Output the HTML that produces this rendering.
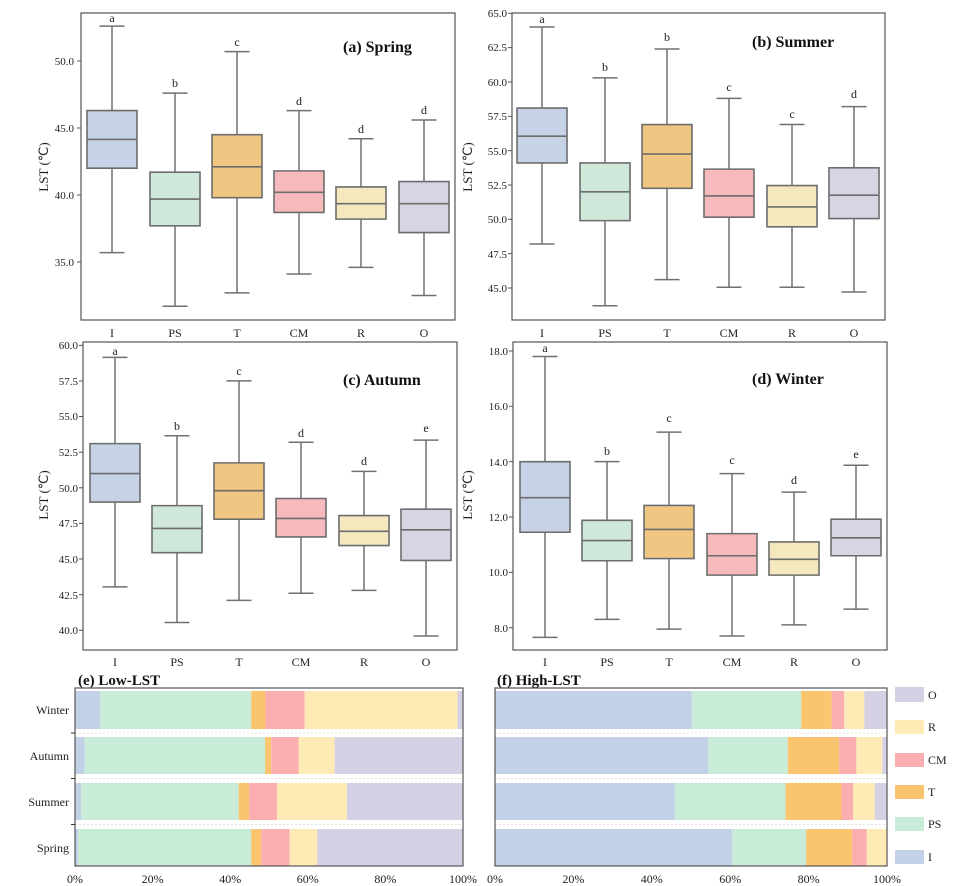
<!DOCTYPE html>
<html><head><meta charset="utf-8"><style>
html,body{margin:0;padding:0;background:#fff;}
svg{display:block;font-family:"Liberation Serif",serif;}
.bx{stroke:#6d6d6d;stroke-width:1.6;}
.w{stroke:#707070;stroke-width:1.5;fill:none;}
.t{font-size:11px;fill:#222;}
.tl{font-size:11px;fill:#222;text-anchor:end;}
.xl{font-size:12px;fill:#222;text-anchor:middle;}
.let{font-size:12px;fill:#222;text-anchor:middle;}
.ttl{font-size:16px;font-weight:bold;fill:#111;}
.fr{fill:none;stroke:#555;stroke-width:1.2;}
</style></head><body>
<svg width="959" height="886" viewBox="0 0 959 886" xmlns="http://www.w3.org/2000/svg">
<defs>
<style>.n{vector-effect:non-scaling-stroke;}</style>
</defs>

<!-- ===== Panel a ===== -->
<rect x="81" y="13" width="374" height="307" class="fr"/>
<g class="tl">
<text x="74" y="65">50.0</text><text x="74" y="132">45.0</text><text x="74" y="199">40.0</text><text x="74" y="266">35.0</text>
</g>
<g stroke="#555"><line x1="77" y1="61" x2="81" y2="61"/><line x1="77" y1="128" x2="81" y2="128"/><line x1="77" y1="195" x2="81" y2="195"/><line x1="77" y1="262" x2="81" y2="262"/></g>
<text transform="translate(48,167) rotate(-90)" class="xl" style="font-size:13px">LST (℃)</text>
<g transform="matrix(1 0 0 -13.4 0 731)">
<g class="w n">
<line class="n" x1="112" y1="46.3" x2="112" y2="52.6"/><line class="n" x1="112" y1="42" x2="112" y2="35.7"/><line class="n" x1="99.5" y1="52.6" x2="124.5" y2="52.6"/><line class="n" x1="99.5" y1="35.7" x2="124.5" y2="35.7"/>
<line class="n" x1="175" y1="41.7" x2="175" y2="47.6"/><line class="n" x1="175" y1="37.7" x2="175" y2="31.7"/><line class="n" x1="162.5" y1="47.6" x2="187.5" y2="47.6"/><line class="n" x1="162.5" y1="31.7" x2="187.5" y2="31.7"/>
<line class="n" x1="237" y1="44.5" x2="237" y2="50.7"/><line class="n" x1="237" y1="39.8" x2="237" y2="32.7"/><line class="n" x1="224.5" y1="50.7" x2="249.5" y2="50.7"/><line class="n" x1="224.5" y1="32.7" x2="249.5" y2="32.7"/>
<line class="n" x1="299" y1="41.8" x2="299" y2="46.3"/><line class="n" x1="299" y1="38.7" x2="299" y2="34.1"/><line class="n" x1="286.5" y1="46.3" x2="311.5" y2="46.3"/><line class="n" x1="286.5" y1="34.1" x2="311.5" y2="34.1"/>
<line class="n" x1="361" y1="40.6" x2="361" y2="44.2"/><line class="n" x1="361" y1="38.2" x2="361" y2="34.6"/><line class="n" x1="348.5" y1="44.2" x2="373.5" y2="44.2"/><line class="n" x1="348.5" y1="34.6" x2="373.5" y2="34.6"/>
<line class="n" x1="424" y1="41" x2="424" y2="45.6"/><line class="n" x1="424" y1="37.2" x2="424" y2="32.5"/><line class="n" x1="411.5" y1="45.6" x2="436.5" y2="45.6"/><line class="n" x1="411.5" y1="32.5" x2="436.5" y2="32.5"/>
</g>
<g class="bx">
<rect class="n" x="87" y="42" width="50" height="4.3" fill="#c6d3e6"/><line class="n" x1="87" y1="44.15" x2="137" y2="44.15"/>
<rect class="n" x="150" y="37.7" width="50" height="4" fill="#cfe8da"/><line class="n" x1="150" y1="39.7" x2="200" y2="39.7"/>
<rect class="n" x="212" y="39.8" width="50" height="4.7" fill="#efc682"/><line class="n" x1="212" y1="42.1" x2="262" y2="42.1"/>
<rect class="n" x="274" y="38.7" width="50" height="3.1" fill="#f6babc"/><line class="n" x1="274" y1="40.2" x2="324" y2="40.2"/>
<rect class="n" x="336" y="38.2" width="50" height="2.4" fill="#f5e7be"/><line class="n" x1="336" y1="39.35" x2="386" y2="39.35"/>
<rect class="n" x="399" y="37.2" width="50" height="3.8" fill="#d8d4e4"/><line class="n" x1="399" y1="39.35" x2="449" y2="39.35"/>
</g></g>
<g class="let"><text x="112" y="22">a</text><text x="175" y="87">b</text><text x="237" y="46">c</text><text x="299" y="105">d</text><text x="361" y="133">d</text><text x="424" y="114">d</text></g>
<g class="xl"><text x="112" y="337">I</text><text x="175" y="337">PS</text><text x="237" y="337">T</text><text x="299" y="337">CM</text><text x="361" y="337">R</text><text x="424" y="337">O</text></g>
<text x="343" y="52" class="ttl">(a) Spring</text>

<!-- ===== Panel b ===== -->
<rect x="512" y="13" width="373" height="307" class="fr"/>
<g class="tl">
<text x="507" y="17">65.0</text><text x="507" y="51">62.5</text><text x="507" y="86">60.0</text><text x="507" y="120">57.5</text><text x="507" y="155">55.0</text><text x="507" y="189">52.5</text><text x="507" y="223">50.0</text><text x="507" y="258">47.5</text><text x="507" y="292">45.0</text>
</g>
<g stroke="#555"><line x1="508" y1="13.3" x2="512" y2="13.3"/><line x1="508" y1="47.6" x2="512" y2="47.6"/><line x1="508" y1="82" x2="512" y2="82"/><line x1="508" y1="116.4" x2="512" y2="116.4"/><line x1="508" y1="150.6" x2="512" y2="150.6"/><line x1="508" y1="185" x2="512" y2="185"/><line x1="508" y1="219.3" x2="512" y2="219.3"/><line x1="508" y1="253.6" x2="512" y2="253.6"/><line x1="508" y1="288" x2="512" y2="288"/></g>
<text transform="translate(472,167) rotate(-90)" class="xl" style="font-size:13px">LST (℃)</text>
<g transform="matrix(1 0 0 -13.73 0 905.75)">
<g class="w">
<line class="n" x1="542" y1="58.1" x2="542" y2="64"/><line class="n" x1="542" y1="54.1" x2="542" y2="48.2"/><line class="n" x1="529.5" y1="64" x2="554.5" y2="64"/><line class="n" x1="529.5" y1="48.2" x2="554.5" y2="48.2"/>
<line class="n" x1="605" y1="54.1" x2="605" y2="60.3"/><line class="n" x1="605" y1="49.9" x2="605" y2="43.7"/><line class="n" x1="592.5" y1="60.3" x2="617.5" y2="60.3"/><line class="n" x1="592.5" y1="43.7" x2="617.5" y2="43.7"/>
<line class="n" x1="667" y1="56.9" x2="667" y2="62.4"/><line class="n" x1="667" y1="52.25" x2="667" y2="45.6"/><line class="n" x1="654.5" y1="62.4" x2="679.5" y2="62.4"/><line class="n" x1="654.5" y1="45.6" x2="679.5" y2="45.6"/>
<line class="n" x1="729" y1="53.65" x2="729" y2="58.8"/><line class="n" x1="729" y1="50.15" x2="729" y2="45.05"/><line class="n" x1="716.5" y1="58.8" x2="741.5" y2="58.8"/><line class="n" x1="716.5" y1="45.05" x2="741.5" y2="45.05"/>
<line class="n" x1="792" y1="52.45" x2="792" y2="56.9"/><line class="n" x1="792" y1="49.45" x2="792" y2="45.05"/><line class="n" x1="779.5" y1="56.9" x2="804.5" y2="56.9"/><line class="n" x1="779.5" y1="45.05" x2="804.5" y2="45.05"/>
<line class="n" x1="854" y1="53.75" x2="854" y2="58.2"/><line class="n" x1="854" y1="50.05" x2="854" y2="44.7"/><line class="n" x1="841.5" y1="58.2" x2="866.5" y2="58.2"/><line class="n" x1="841.5" y1="44.7" x2="866.5" y2="44.7"/>
</g>
<g class="bx">
<rect class="n" x="517" y="54.1" width="50" height="4" fill="#c6d3e6"/><line class="n" x1="517" y1="56.05" x2="567" y2="56.05"/>
<rect class="n" x="580" y="49.9" width="50" height="4.2" fill="#cfe8da"/><line class="n" x1="580" y1="52" x2="630" y2="52"/>
<rect class="n" x="642" y="52.25" width="50" height="4.65" fill="#efc682"/><line class="n" x1="642" y1="54.75" x2="692" y2="54.75"/>
<rect class="n" x="704" y="50.15" width="50" height="3.5" fill="#f6babc"/><line class="n" x1="704" y1="51.7" x2="754" y2="51.7"/>
<rect class="n" x="767" y="49.45" width="50" height="3" fill="#f5e7be"/><line class="n" x1="767" y1="50.9" x2="817" y2="50.9"/>
<rect class="n" x="829" y="50.05" width="50" height="3.7" fill="#d8d4e4"/><line class="n" x1="829" y1="51.75" x2="879" y2="51.75"/>
</g></g>
<g class="let"><text x="542" y="23">a</text><text x="605" y="71">b</text><text x="667" y="41">b</text><text x="729" y="91">c</text><text x="792" y="118">c</text><text x="854" y="98">d</text></g>
<g class="xl"><text x="542" y="337">I</text><text x="605" y="337">PS</text><text x="667" y="337">T</text><text x="729" y="337">CM</text><text x="792" y="337">R</text><text x="854" y="337">O</text></g>
<text x="752" y="47" class="ttl">(b) Summer</text>

<!-- ===== Panel c ===== -->
<rect x="83" y="342" width="374" height="308" class="fr"/>
<g class="tl">
<text x="78" y="349">60.0</text><text x="78" y="385">57.5</text><text x="78" y="420">55.0</text><text x="78" y="456">52.5</text><text x="78" y="492">50.0</text><text x="78" y="527">47.5</text><text x="78" y="563">45.0</text><text x="78" y="599">42.5</text><text x="78" y="634">40.0</text>
</g>
<g stroke="#555"><line x1="79" y1="345.3" x2="83" y2="345.3"/><line x1="79" y1="381" x2="83" y2="381"/><line x1="79" y1="416.5" x2="83" y2="416.5"/><line x1="79" y1="452.2" x2="83" y2="452.2"/><line x1="79" y1="487.8" x2="83" y2="487.8"/><line x1="79" y1="523.4" x2="83" y2="523.4"/><line x1="79" y1="559" x2="83" y2="559"/><line x1="79" y1="594.7" x2="83" y2="594.7"/><line x1="79" y1="630.3" x2="83" y2="630.3"/></g>
<text transform="translate(48,495) rotate(-90)" class="xl" style="font-size:13px">LST (℃)</text>
<g transform="matrix(1 0 0 -14.25 0 1200.3)">
<g class="w">
<line class="n" x1="115" y1="53.1" x2="115" y2="59.15"/><line class="n" x1="115" y1="49" x2="115" y2="43.05"/><line class="n" x1="102.5" y1="59.15" x2="127.5" y2="59.15"/><line class="n" x1="102.5" y1="43.05" x2="127.5" y2="43.05"/>
<line class="n" x1="177" y1="48.75" x2="177" y2="53.65"/><line class="n" x1="177" y1="45.45" x2="177" y2="40.55"/><line class="n" x1="164.5" y1="53.65" x2="189.5" y2="53.65"/><line class="n" x1="164.5" y1="40.55" x2="189.5" y2="40.55"/>
<line class="n" x1="239" y1="51.75" x2="239" y2="57.5"/><line class="n" x1="239" y1="47.8" x2="239" y2="42.1"/><line class="n" x1="226.5" y1="57.5" x2="251.5" y2="57.5"/><line class="n" x1="226.5" y1="42.1" x2="251.5" y2="42.1"/>
<line class="n" x1="301" y1="49.25" x2="301" y2="53.2"/><line class="n" x1="301" y1="46.55" x2="301" y2="42.6"/><line class="n" x1="288.5" y1="53.2" x2="313.5" y2="53.2"/><line class="n" x1="288.5" y1="42.6" x2="313.5" y2="42.6"/>
<line class="n" x1="364" y1="48.05" x2="364" y2="51.15"/><line class="n" x1="364" y1="45.95" x2="364" y2="42.8"/><line class="n" x1="351.5" y1="51.15" x2="376.5" y2="51.15"/><line class="n" x1="351.5" y1="42.8" x2="376.5" y2="42.8"/>
<line class="n" x1="426" y1="48.5" x2="426" y2="53.35"/><line class="n" x1="426" y1="44.9" x2="426" y2="39.6"/><line class="n" x1="413.5" y1="53.35" x2="438.5" y2="53.35"/><line class="n" x1="413.5" y1="39.6" x2="438.5" y2="39.6"/>
</g>
<g class="bx">
<rect class="n" x="90" y="49" width="50" height="4.1" fill="#c6d3e6"/><line class="n" x1="90" y1="51" x2="140" y2="51"/>
<rect class="n" x="152" y="45.45" width="50" height="3.3" fill="#cfe8da"/><line class="n" x1="152" y1="47.15" x2="202" y2="47.15"/>
<rect class="n" x="214" y="47.8" width="50" height="3.95" fill="#efc682"/><line class="n" x1="214" y1="49.8" x2="264" y2="49.8"/>
<rect class="n" x="276" y="46.55" width="50" height="2.7" fill="#f6babc"/><line class="n" x1="276" y1="47.85" x2="326" y2="47.85"/>
<rect class="n" x="339" y="45.95" width="50" height="2.1" fill="#f5e7be"/><line class="n" x1="339" y1="46.95" x2="389" y2="46.95"/>
<rect class="n" x="401" y="44.9" width="50" height="3.6" fill="#d8d4e4"/><line class="n" x1="401" y1="47.05" x2="451" y2="47.05"/>
</g></g>
<g class="let"><text x="115" y="355">a</text><text x="177" y="430">b</text><text x="239" y="375">c</text><text x="301" y="437">d</text><text x="364" y="465">d</text><text x="426" y="432">e</text></g>
<g class="xl"><text x="115" y="666">I</text><text x="177" y="666">PS</text><text x="239" y="666">T</text><text x="301" y="666">CM</text><text x="364" y="666">R</text><text x="426" y="666">O</text></g>
<text x="343" y="385" class="ttl">(c) Autumn</text>

<!-- ===== Panel d ===== -->
<rect x="513" y="342" width="374" height="308" class="fr"/>
<g class="tl">
<text x="508" y="355">18.0</text><text x="508" y="410">16.0</text><text x="508" y="466">14.0</text><text x="508" y="521">12.0</text><text x="508" y="576">10.0</text><text x="508" y="632">8.0</text>
</g>
<g stroke="#555"><line x1="509" y1="351" x2="513" y2="351"/><line x1="509" y1="406.3" x2="513" y2="406.3"/><line x1="509" y1="461.7" x2="513" y2="461.7"/><line x1="509" y1="517" x2="513" y2="517"/><line x1="509" y1="572.4" x2="513" y2="572.4"/><line x1="509" y1="627.7" x2="513" y2="627.7"/></g>
<text transform="translate(472,495) rotate(-90)" class="xl" style="font-size:13px">LST (℃)</text>
<g transform="matrix(1 0 0 -27.67 0 849.06)">
<g class="w">
<line class="n" x1="545" y1="14" x2="545" y2="17.8"/><line class="n" x1="545" y1="11.45" x2="545" y2="7.65"/><line class="n" x1="532.5" y1="17.8" x2="557.5" y2="17.8"/><line class="n" x1="532.5" y1="7.65" x2="557.5" y2="7.65"/>
<line class="n" x1="607" y1="11.88" x2="607" y2="14"/><line class="n" x1="607" y1="10.42" x2="607" y2="8.3"/><line class="n" x1="594.5" y1="14" x2="619.5" y2="14"/><line class="n" x1="594.5" y1="8.3" x2="619.5" y2="8.3"/>
<line class="n" x1="669" y1="12.42" x2="669" y2="15.07"/><line class="n" x1="669" y1="10.5" x2="669" y2="7.95"/><line class="n" x1="656.5" y1="15.07" x2="681.5" y2="15.07"/><line class="n" x1="656.5" y1="7.95" x2="681.5" y2="7.95"/>
<line class="n" x1="732" y1="11.4" x2="732" y2="13.57"/><line class="n" x1="732" y1="9.9" x2="732" y2="7.7"/><line class="n" x1="719.5" y1="13.57" x2="744.5" y2="13.57"/><line class="n" x1="719.5" y1="7.7" x2="744.5" y2="7.7"/>
<line class="n" x1="794" y1="11.1" x2="794" y2="12.9"/><line class="n" x1="794" y1="9.9" x2="794" y2="8.1"/><line class="n" x1="781.5" y1="12.9" x2="806.5" y2="12.9"/><line class="n" x1="781.5" y1="8.1" x2="806.5" y2="8.1"/>
<line class="n" x1="856" y1="11.92" x2="856" y2="13.87"/><line class="n" x1="856" y1="10.6" x2="856" y2="8.67"/><line class="n" x1="843.5" y1="13.87" x2="868.5" y2="13.87"/><line class="n" x1="843.5" y1="8.67" x2="868.5" y2="8.67"/>
</g>
<g class="bx">
<rect class="n" x="520" y="11.45" width="50" height="2.55" fill="#c6d3e6"/><line class="n" x1="520" y1="12.7" x2="570" y2="12.7"/>
<rect class="n" x="582" y="10.42" width="50" height="1.46" fill="#cfe8da"/><line class="n" x1="582" y1="11.15" x2="632" y2="11.15"/>
<rect class="n" x="644" y="10.5" width="50" height="1.92" fill="#efc682"/><line class="n" x1="644" y1="11.55" x2="694" y2="11.55"/>
<rect class="n" x="707" y="9.9" width="50" height="1.5" fill="#f6babc"/><line class="n" x1="707" y1="10.6" x2="757" y2="10.6"/>
<rect class="n" x="769" y="9.9" width="50" height="1.2" fill="#f5e7be"/><line class="n" x1="769" y1="10.47" x2="819" y2="10.47"/>
<rect class="n" x="831" y="10.6" width="50" height="1.32" fill="#d8d4e4"/><line class="n" x1="831" y1="11.25" x2="881" y2="11.25"/>
</g></g>
<g class="let"><text x="545" y="352">a</text><text x="607" y="455">b</text><text x="669" y="422">c</text><text x="732" y="464">c</text><text x="794" y="484">d</text><text x="856" y="458">e</text></g>
<g class="xl"><text x="545" y="666">I</text><text x="607" y="666">PS</text><text x="669" y="666">T</text><text x="732" y="666">CM</text><text x="794" y="666">R</text><text x="856" y="666">O</text></g>
<text x="752" y="384" class="ttl">(d) Winter</text>

<!-- ===== Panel e ===== -->
<text x="78" y="685" class="ttl" style="font-size:15px">(e) Low-LST</text>
<g>
<rect x="75" y="691" width="25.2" height="38" fill="#c3d1e8"/><rect x="100.2" y="691" width="151" height="38" fill="#c9ecd9"/><rect x="251.2" y="691" width="14.3" height="38" fill="#fbc46e"/><rect x="265.5" y="691" width="39.2" height="38" fill="#faaeb0"/><rect x="304.7" y="691" width="152.9" height="38" fill="#fdeab4"/><rect x="457.6" y="691" width="5.4" height="38" fill="#d5d0e3"/>
<rect x="75" y="737" width="9.7" height="37" fill="#c3d1e8"/><rect x="84.7" y="737" width="180.4" height="37" fill="#c9ecd9"/><rect x="265.1" y="737" width="6.2" height="37" fill="#fbc46e"/><rect x="271.3" y="737" width="27.2" height="37" fill="#faaeb0"/><rect x="298.5" y="737" width="36.1" height="37" fill="#fdeab4"/><rect x="334.6" y="737" width="128.4" height="37" fill="#d5d0e3"/>
<rect x="75" y="783" width="6.2" height="37" fill="#c3d1e8"/><rect x="81.2" y="783" width="157.5" height="37" fill="#c9ecd9"/><rect x="238.7" y="783" width="10.5" height="37" fill="#fbc46e"/><rect x="249.2" y="783" width="27.9" height="37" fill="#faaeb0"/><rect x="277.1" y="783" width="69.9" height="37" fill="#fdeab4"/><rect x="347" y="783" width="116" height="37" fill="#d5d0e3"/>
<rect x="75" y="829" width="3.1" height="37" fill="#c3d1e8"/><rect x="78.1" y="829" width="173.1" height="37" fill="#c9ecd9"/><rect x="251.2" y="829" width="10" height="37" fill="#fbc46e"/><rect x="261.2" y="829" width="28.4" height="37" fill="#faaeb0"/><rect x="289.6" y="829" width="27.5" height="37" fill="#fdeab4"/><rect x="317.1" y="829" width="145.9" height="37" fill="#d5d0e3"/>
</g>
<g stroke="#e2e2e2" stroke-dasharray="2 2"><line x1="75" y1="733" x2="463" y2="733"/><line x1="75" y1="778.5" x2="463" y2="778.5"/><line x1="75" y1="824.5" x2="463" y2="824.5"/></g>
<rect x="75" y="688" width="388" height="178" class="fr" stroke="#333"/>
<g stroke="#333"><line x1="71" y1="733" x2="75" y2="733"/><line x1="71" y1="778.5" x2="75" y2="778.5"/><line x1="71" y1="824.5" x2="75" y2="824.5"/></g>
<g class="tl" style="font-size:12px"><text x="69" y="714">Winter</text><text x="69" y="760">Autumn</text><text x="69" y="806">Summer</text><text x="69" y="852">Spring</text></g>
<g class="xl"><text x="75" y="883">0%</text><text x="152.6" y="883">20%</text><text x="230.2" y="883">40%</text><text x="307.8" y="883">60%</text><text x="385.4" y="883">80%</text><text x="463" y="883">100%</text></g>

<!-- ===== Panel f ===== -->
<text x="497" y="685" class="ttl" style="font-size:15px">(f) High-LST</text>
<g>
<rect x="495" y="691" width="196.8" height="38" fill="#c3d1e8"/><rect x="691.8" y="691" width="109.4" height="38" fill="#c9ecd9"/><rect x="801.2" y="691" width="30.5" height="38" fill="#fbc46e"/><rect x="831.7" y="691" width="12.6" height="38" fill="#faaeb0"/><rect x="844.3" y="691" width="20" height="38" fill="#fdeab4"/><rect x="864.3" y="691" width="22.7" height="38" fill="#d5d0e3"/>
<rect x="495" y="737" width="213.2" height="37" fill="#c3d1e8"/><rect x="708.2" y="737" width="79.6" height="37" fill="#c9ecd9"/><rect x="787.8" y="737" width="51.4" height="37" fill="#fbc46e"/><rect x="839.2" y="737" width="17.2" height="37" fill="#faaeb0"/><rect x="856.4" y="737" width="25.9" height="37" fill="#fdeab4"/><rect x="882.3" y="737" width="4.7" height="37" fill="#d5d0e3"/>
<rect x="495" y="783" width="179.9" height="37" fill="#c3d1e8"/><rect x="674.9" y="783" width="110.6" height="37" fill="#c9ecd9"/><rect x="785.5" y="783" width="56" height="37" fill="#fbc46e"/><rect x="841.5" y="783" width="11.8" height="37" fill="#faaeb0"/><rect x="853.3" y="783" width="21.5" height="37" fill="#fdeab4"/><rect x="874.8" y="783" width="12.2" height="37" fill="#d5d0e3"/>
<rect x="495" y="829" width="237.2" height="37" fill="#c3d1e8"/><rect x="732.2" y="829" width="74" height="37" fill="#c9ecd9"/><rect x="806.2" y="829" width="45.9" height="37" fill="#fbc46e"/><rect x="852.1" y="829" width="14.5" height="37" fill="#faaeb0"/><rect x="866.6" y="829" width="20.4" height="37" fill="#fdeab4"/>
</g>
<g stroke="#e2e2e2" stroke-dasharray="2 2"><line x1="495" y1="733" x2="887" y2="733"/><line x1="495" y1="778.5" x2="887" y2="778.5"/><line x1="495" y1="824.5" x2="887" y2="824.5"/></g>
<rect x="495" y="688" width="392" height="178" class="fr" stroke="#333"/>
<g class="xl"><text x="495" y="883">0%</text><text x="573.4" y="883">20%</text><text x="651.8" y="883">40%</text><text x="730.2" y="883">60%</text><text x="808.6" y="883">80%</text><text x="887" y="883">100%</text></g>

<!-- legend -->
<rect x="895" y="687" width="29" height="15" fill="#d5d0e3"/>
<rect x="895" y="720" width="29" height="14" fill="#fdeab4"/>
<rect x="895" y="753" width="29" height="14" fill="#faaeb0"/>
<rect x="895" y="785" width="29" height="14" fill="#fbc46e"/>
<rect x="895" y="817" width="29" height="14" fill="#c9ecd9"/>
<rect x="895" y="850" width="29" height="14" fill="#c3d1e8"/>
<g class="t" style="font-size:12px"><text x="928" y="699">O</text><text x="928" y="731">R</text><text x="928" y="764">CM</text><text x="928" y="796">T</text><text x="928" y="828">PS</text><text x="928" y="861">I</text></g>
</svg>
</body></html>
